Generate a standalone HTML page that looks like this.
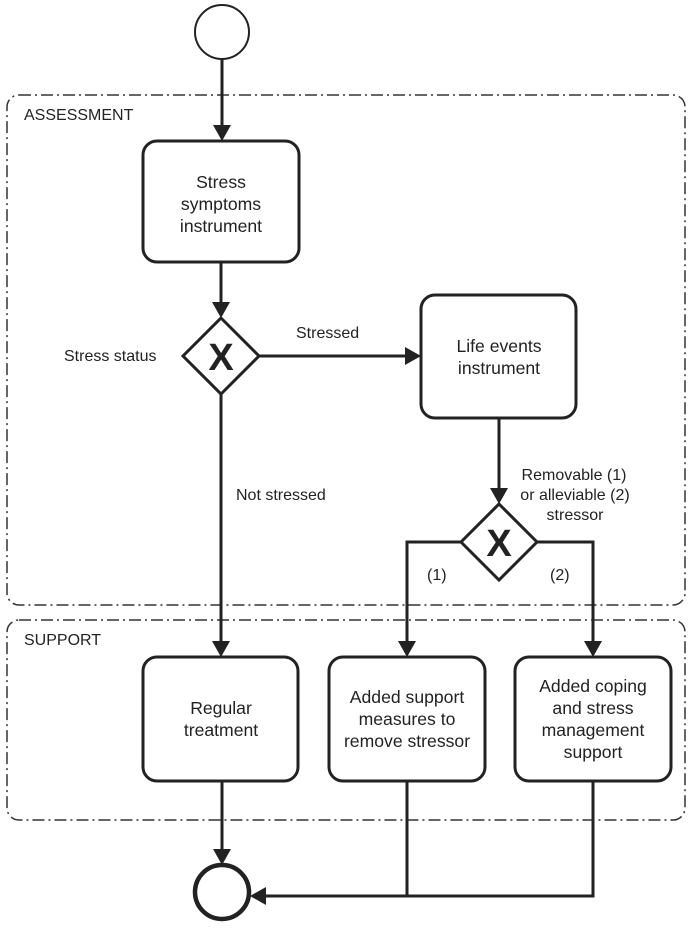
<!DOCTYPE html>
<html><head><style>body{margin:0;background:#fff}svg{display:block}text{font-family:"Liberation Sans",sans-serif;fill:#222}</style></head><body>
<svg width="690" height="931" viewBox="0 0 690 931">
<g fill="none" stroke="#333" stroke-width="1.5" stroke-dasharray="12,4,2,4">
<rect x="7" y="95" width="678" height="510" rx="12"/>
<rect x="7" y="620" width="678" height="200" rx="12"/>
</g>
<text x="24" y="120" font-size="16">ASSESSMENT</text>
<text x="24" y="645" font-size="16">SUPPORT</text>
<g stroke="#222" stroke-width="3" fill="none">
<circle cx="222" cy="32" r="27" stroke-width="2"/>
<circle cx="222" cy="892" r="27" stroke-width="4.5"/>
<rect x="143" y="141" width="156" height="121" rx="14"/>
<rect x="421" y="295" width="155" height="123" rx="14"/>
<rect x="143" y="657" width="155" height="124" rx="14"/>
<rect x="329" y="657" width="156" height="124" rx="14"/>
<rect x="515" y="657" width="156" height="124" rx="14"/>
<path d="M221,318 L259,356 L221,394 L183,356z" fill="#fff"/>
<path d="M499,504 L537,542 L499,580 L461,542z" fill="#fff"/>
<path d="M222,59 V128"/><path d="M221,262 V306"/><path d="M259,356 H408"/>
<path d="M499,418 V492"/><path d="M221,394 V644"/>
<path d="M461,542 H407 V644"/><path d="M537,542 H593 V644"/>
<path d="M222,781 V852"/><path d="M407,781 V896"/><path d="M593,781 V896 H262"/>
</g>
<g fill="#222">
<path d="M213,125 L231,125 L222,141z"/>
<path d="M212,302 L230,302 L221,318z"/>
<path d="M405,347 L421,356 L405,365z"/>
<path d="M490,488 L508,488 L499,504z"/>
<path d="M212,641 L230,641 L221,657z"/>
<path d="M398,641 L416,641 L407,657z"/>
<path d="M584,641 L602,641 L593,657z"/>
<path d="M213,849 L231,849 L222,865z"/>
<path d="M266,887 L266,905 L250,896z"/>
</g>
<g font-size="17.6" text-anchor="middle">
<text x="221" y="188">Stress</text><text x="221" y="210">symptoms</text><text x="221" y="232">instrument</text>
<text x="499" y="352">Life events</text><text x="499" y="374">instrument</text>
<text x="221" y="714">Regular</text><text x="221" y="736">treatment</text>
<text x="407" y="703">Added support</text><text x="407" y="725">measures to</text><text x="407" y="747">remove stressor</text>
<text x="593" y="692">Added coping</text><text x="593" y="714">and stress</text><text x="593" y="736">management</text><text x="593" y="758">support</text>
</g>
<g font-weight="bold" font-size="38" text-anchor="middle"><text x="221" y="370">X</text><text x="499" y="556">X</text></g>
<g font-size="16">
<text x="64" y="361">Stress status</text>
<text x="296" y="338">Stressed</text>
<text x="236" y="500">Not stressed</text>
<text x="427" y="580">(1)</text><text x="550" y="580">(2)</text>
<g text-anchor="middle"><text x="574" y="480">Removable (1)</text><text x="575" y="500">or alleviable (2)</text><text x="575" y="520">stressor</text></g>
</g>
</svg>
</body></html>
